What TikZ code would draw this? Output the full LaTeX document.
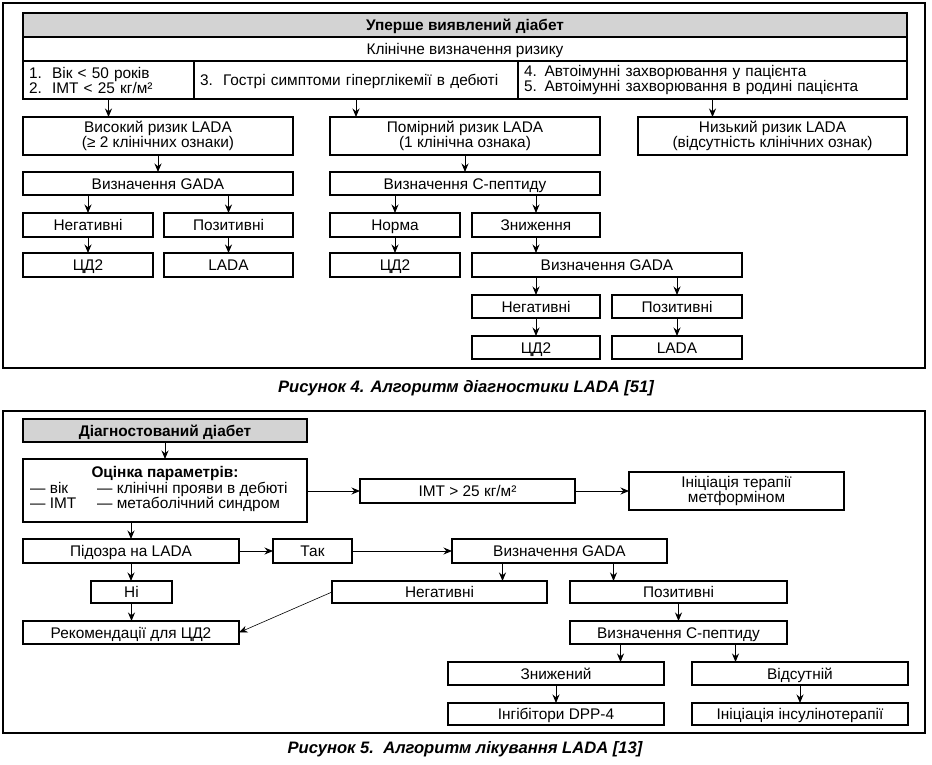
\documentclass[tikz,border=0pt]{standalone}
\usepackage{fontspec}
\setmainfont{Liberation Sans}
\usetikzlibrary{arrows.meta}
\definecolor{hdr}{RGB}{211,211,211}
\newcommand\bx[7][]{%
  \pgfmathsetmacro\bxcx{(#3+#5)/2}%
  \pgfmathsetmacro\bxcy{(#4+#6)/2}%
  \pgfmathsetmacro\bxw{#5-#3}%
  \pgfmathsetmacro\bxh{#6-#4}%
  \node[box,minimum width=\bxw pt,minimum height=\bxh pt,#1] (#2) at (\bxcx,\bxcy) {#7};}
\begin{document}
\begin{tikzpicture}[x=1pt,y=-1pt,
  txt/.style={font=\fontsize{15.4}{15}\selectfont},
  box/.style={draw,line width=1.1pt,inner sep=0pt,outer sep=0pt,align=center,txt,text height=11pt,text depth=0pt},
  ml/.style={text height={},text depth={}},
  frm/.style={line width=1.1pt},
  lft/.style={align=left,inner xsep=6pt},
  hd/.style={fill=hdr,font=\fontsize{15.4}{15}\selectfont\bfseries},
  arr/.style={-{Stealth[length=8.5pt,width=7pt]},line width=0.9pt},
  thin arr/.style={-{Stealth[length=8.5pt,width=7pt]},line width=0.6pt},
  captxt/.style={font=\fontsize{16.6}{18}\selectfont\bfseries\itshape,anchor=base,inner sep=0pt}]
\useasboundingbox (0,0) rectangle (932,764);
% ---------- Figure 4 ----------
\bx[frm]{frameA}{3}{3}{925}{368}{}
\bx[hd]{h1}{23}{13}{907}{37}{Уперше виявлений діабет}
\bx{clin}{23}{37}{907}{61}{Клінічне визначення ризику}
\bx[lft,ml,text width=159pt]{c1}{23}{61}{194}{99}{1.~~Вік < 50 років\\2.~~ІМТ < 25 кг/м²}
\bx[lft,text width=312pt]{c2}{194}{61}{518}{99}{3.~~Гострі симптоми гіперглікемії в дебюті}
\bx[lft,ml,text width=377pt]{c3}{518}{61}{907}{99}{4. Автоімунні захворювання у пацієнта\\5. Автоімунні захворювання в родині пацієнта}
\bx[ml]{hi}{23}{117}{293}{155}{Високий ризик LADA\\(≥ 2 клінічних ознаки)}
\bx[ml]{mid}{330}{117}{600}{155}{Помірний ризик LADA\\(1 клінічна ознака)}
\bx[ml]{lo}{638}{117}{907}{155}{Низький ризик LADA\\(відсутність клінічних ознак)}
\bx{g1}{23}{172}{293}{195}{Визначення GADA}
\bx{n1}{23}{213}{153}{237}{Негативні}
\bx{p1}{164}{213}{293}{237}{Позитивні}
\bx{t1}{23}{253}{153}{277}{ЦД2}
\bx{l1}{164}{253}{293}{277}{LADA}
\bx{cp1}{330}{172}{600}{195}{Визначення С-пептиду}
\bx{nm}{330}{213}{460}{237}{Норма}
\bx{t2}{330}{253}{460}{277}{ЦД2}
\bx{zn}{472}{213}{600}{237}{Зниження}
\bx{g2}{472}{253}{742}{277}{Визначення GADA}
\bx{n2}{472}{295}{600}{318}{Негативні}
\bx{p2}{612}{295}{742}{318}{Позитивні}
\bx{t3}{472}{336}{600}{359}{ЦД2}
\bx{l3}{612}{336}{742}{359}{LADA}
\draw[arr] (c1.south) -- (c1.south |- hi.north);
\draw[arr] (c2.south) -- (c2.south |- mid.north);
\draw[arr] (c3.south) -- (c3.south |- lo.north);
\draw[arr] (hi.south) -- (g1.north);
\draw[arr] (g1.south -| n1.north) -- (n1.north);
\draw[arr] (g1.south -| p1.north) -- (p1.north);
\draw[arr] (n1.south) -- (t1.north);
\draw[arr] (p1.south) -- (l1.north);
\draw[arr] (mid.south) -- (cp1.north);
\draw[arr] (cp1.south -| nm.north) -- (nm.north);
\draw[arr] (cp1.south -| zn.north) -- (zn.north);
\draw[arr] (nm.south) -- (t2.north);
\draw[arr] (zn.south) -- (zn.south |- g2.north);
\draw[arr] (g2.south -| n2.north) -- (n2.north);
\draw[arr] (g2.south -| p2.north) -- (p2.north);
\draw[arr] (n2.south) -- (t3.north);
\draw[arr] (p2.south) -- (l3.north);
\node[captxt] (cap4) at (466,392) {Рисунок 4. Алгоритм діагностики LADA [51]};
% ---------- Figure 5 ----------
\bx[frm]{frameB}{3}{411}{925}{733}{}
\bx[hd]{dd}{23}{419}{307}{442}{Діагностований діабет}
\bx{oc}{23}{459}{307}{522}{}
\node[txt,anchor=base,inner sep=0pt,font=\fontsize{15.4}{15}\selectfont\bfseries] (oct) at (165,477) {Оцінка параметрів:};
\node[txt,anchor=base west,inner sep=0pt] (o1) at (30,493) {— вік};
\node[txt,anchor=base west,inner sep=0pt] (o2) at (97,493) {— клінічні прояви в дебюті};
\node[txt,anchor=base west,inner sep=0pt] (o3) at (30,508) {— ІМТ};
\node[txt,anchor=base west,inner sep=0pt] (o4) at (97,508) {— метаболічний синдром};
\bx{imt}{360}{479}{575}{503}{ІМТ > 25 кг/м²}
\bx[ml]{met}{629}{472}{844}{510}{Ініціація терапії\\метформіном}
\bx{pd}{23}{539}{239}{563}{Підозра на LADA}
\bx{tak}{273}{539}{352}{563}{Так}
\bx{g5}{452}{539}{667}{563}{Визначення GADA}
\bx{ni}{91}{581}{172}{603}{Ні}
\bx{rec}{23}{621}{239}{644}{Рекомендації для ЦД2}
\bx{neg5}{332}{581}{547}{603}{Негативні}
\bx{pos5}{570}{581}{787}{603}{Позитивні}
\bx{cp5}{570}{621}{787}{644}{Визначення С-пептиду}
\bx{zn5}{448}{662}{664}{685}{Знижений}
\bx{vs}{692}{662}{908}{685}{Відсутній}
\bx{dpp}{448}{703}{664}{725}{Інгібітори DPP-4}
\bx{ins}{692}{703}{908}{725}{Ініціація інсулінотерапії}
\draw[arr] (dd.south) -- (oc.north);
\draw[arr] (oc.east |- imt.west) -- (imt.west);
\draw[arr] (imt.east) -- (imt.east -| met.west);
\draw[arr] (oc.south -| pd.north) -- (pd.north);
\draw[arr] (pd.east) -- (tak.west);
\draw[arr] (tak.east) -- (g5.west);
\draw[arr] (pd.south) -- (pd.south |- ni.north);
\draw[arr] (ni.south) -- (ni.south |- rec.north);
\draw[arr] ([xshift=-57pt]g5.south) -- ([xshift=-57pt]g5.south |- neg5.north);
\draw[arr] ([xshift=54pt]g5.south) -- ([xshift=54pt]g5.south |- pos5.north);
\draw[thin arr] (neg5.west) -- (rec.east);
\draw[arr] (pos5.south) -- (cp5.north);
\draw[arr] ([xshift=-58pt]cp5.south) -- ([xshift=-58pt]cp5.south |- zn5.north);
\draw[arr] ([xshift=57pt]cp5.south) -- ([xshift=57pt]cp5.south |- vs.north);
\draw[arr] (zn5.south) -- (dpp.north);
\draw[arr] (vs.south) -- (ins.north);
\node[captxt] (cap5) at (465,753) {Рисунок 5.~~Алгоритм лікування LADA [13]};
\end{tikzpicture}
\end{document}
